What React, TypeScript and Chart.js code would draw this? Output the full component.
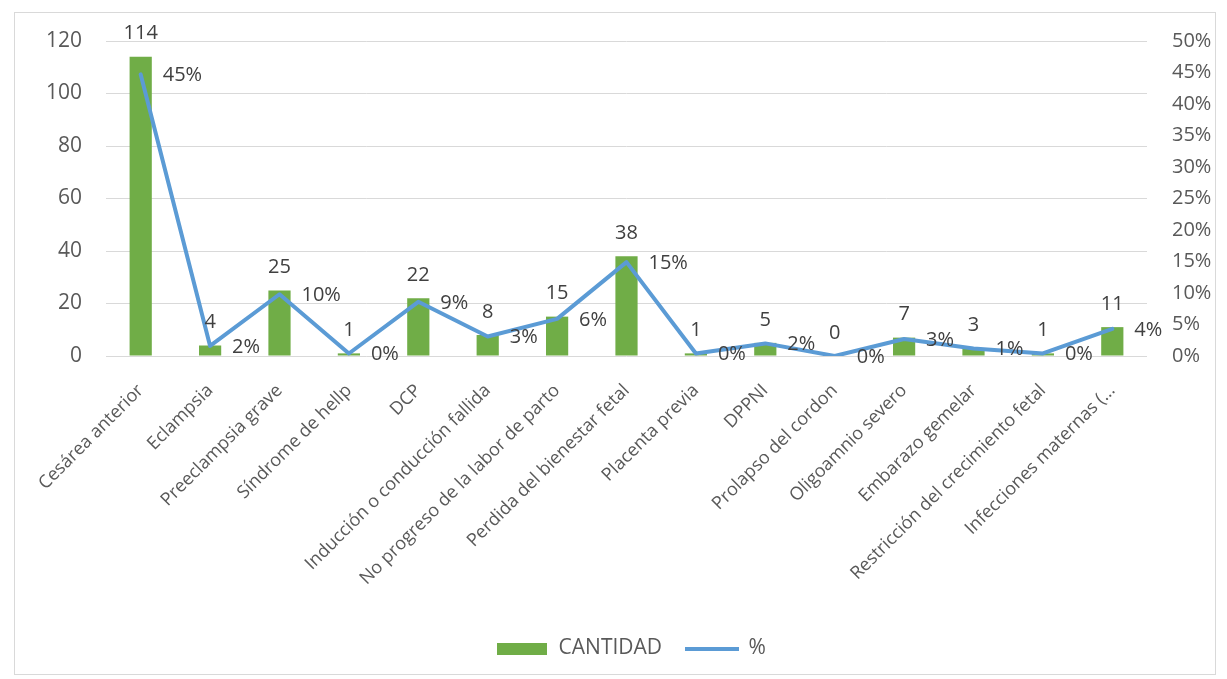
import React, { useEffect, useRef } from "react";
import { Chart, registerables } from "chart.js";

Chart.register(...registerables);

const categories = [
  "Cesárea anterior",
  "Eclampsia",
  "Preeclampsia grave",
  "Síndrome de hellp",
  "DCP",
  "Inducción o conducción fallida",
  "No progreso de la labor de parto",
  "Perdida del bienestar fetal",
  "Placenta previa",
  "DPPNI",
  "Prolapso del cordon",
  "Oligoamnio severo",
  "Embarazo gemelar",
  "Restricción del crecimiento fetal",
  "Infecciones maternas (...",
];

const cantidad = [114, 4, 25, 1, 22, 8, 15, 38, 1, 5, 0, 7, 3, 1, 11];
const porcentaje = [44.7, 1.6, 9.8, 0.4, 8.6, 3.1, 5.9, 14.9, 0.4, 2.0, 0.0, 2.7, 1.2, 0.4, 4.3];
const porcentajeLabels = ["45%", "2%", "10%", "0%", "9%", "3%", "6%", "15%", "0%", "2%", "0%", "3%", "1%", "0%", "4%"];

const leftMax = 120;
const leftStep = 20;
const rightMax = 50;
const rightStep = 5;

const GREEN = "#70ad47";
const BLUE = "#5b9bd5";
const FONT = '"Open Sans", "Liberation Sans", sans-serif';

function makeSwatch(w: number, h: number, color: string): HTMLCanvasElement {
  const c = document.createElement("canvas");
  c.width = w;
  c.height = h;
  const g = c.getContext("2d")!;
  g.fillStyle = color;
  g.fillRect(0, 0, w, h);
  return c;
}

const dataLabelsPlugin = {
  id: "dataLabels",
  afterDatasetsDraw(chart: any) {
    const ctx = chart.ctx;
    ctx.save();
    ctx.font = `20px ${FONT}`;
    ctx.fillStyle = "#404040";
    ctx.textBaseline = "middle";
    const barMeta = chart.getDatasetMeta(0);
    barMeta.data.forEach((el: any, i: number) => {
      ctx.textAlign = "center";
      ctx.fillText(String(cantidad[i]), el.x, el.y - 23);
    });
    const lineMeta = chart.getDatasetMeta(1);
    lineMeta.data.forEach((el: any, i: number) => {
      ctx.textAlign = "left";
      ctx.fillText(porcentajeLabels[i], el.x + 22, el.y + 1);
    });
    ctx.restore();
  },
};

export default function App() {
  const canvasRef = useRef<HTMLCanvasElement | null>(null);

  useEffect(() => {
    if (!canvasRef.current) return;
    const greenSwatch = makeSwatch(50, 12, GREEN);
    const blueSwatch = makeSwatch(54, 4, BLUE);

    const chart = new Chart(canvasRef.current, {
      type: "bar",
      data: {
        labels: categories,
        datasets: [
          {
            type: "bar",
            label: "CANTIDAD",
            data: cantidad,
            backgroundColor: GREEN,
            borderWidth: 0,
            yAxisID: "y",
            categoryPercentage: 1,
            barPercentage: 0.32,
            order: 1,
          },
          {
            type: "line",
            label: "%",
            data: porcentaje,
            borderColor: BLUE,
            backgroundColor: BLUE,
            borderWidth: 4,
            pointRadius: 0,
            tension: 0,
            borderCapStyle: "round",
            borderJoinStyle: "round",
            yAxisID: "y1",
            order: 0,
          } as any,
        ],
      },
      options: {
        animation: false,
        responsive: true,
        maintainAspectRatio: false,
        layout: { padding: { top: 28, bottom: 5, left: 32, right: 0 } },
        plugins: {
          tooltip: { enabled: false },
          legend: {
            position: "bottom",
            labels: {
              usePointStyle: true,
              pointStyleWidth: 52,
              boxHeight: 12,
              padding: 24,
              color: "#595959",
              font: { size: 21, family: FONT },
              generateLabels: () => [
                {
                  text: "CANTIDAD",
                  fillStyle: GREEN,
                  strokeStyle: GREEN,
                  lineWidth: 0,
                  pointStyle: greenSwatch,
                  hidden: false,
                  datasetIndex: 0,
                  fontColor: "#595959",
                } as any,
                {
                  text: "%",
                  fillStyle: BLUE,
                  strokeStyle: BLUE,
                  lineWidth: 0,
                  pointStyle: blueSwatch,
                  hidden: false,
                  datasetIndex: 1,
                  fontColor: "#595959",
                } as any,
              ],
            },
          },
        },
        scales: {
          x: {
            grid: { display: false },
            border: { display: false },
            ticks: {
              autoSkip: false,
              maxRotation: 45,
              minRotation: 45,
              padding: 16,
              color: "#595959",
              font: { size: 18, family: FONT },
            },
            afterFit: (scale: any) => {
              scale.height = 258;
            },
          },
          y: {
            position: "left",
            min: 0,
            max: leftMax,
            ticks: {
              stepSize: leftStep,
              padding: 24,
              color: "#595959",
              font: { size: 21, family: FONT },
            },
            grid: { color: "#d9d9d9", lineWidth: 1, drawTicks: false },
            border: { display: false },
            afterFit: (scale: any) => {
              scale.width = 59;
              scale.paddingTop = 0;
              scale.paddingBottom = 0;
            },
          },
          y1: {
            position: "right",
            min: 0,
            max: rightMax,
            ticks: {
              stepSize: rightStep,
              padding: 25,
              color: "#595959",
              font: { size: 20, family: FONT },
              callback: (v: any) => `${v}%`,
            },
            grid: { display: false, drawTicks: false },
            border: { display: false },
            afterFit: (scale: any) => {
              scale.width = 68;
              scale.paddingTop = 0;
              scale.paddingBottom = 0;
            },
          },
        },
      },
      plugins: [dataLabelsPlugin],
    });
    return () => chart.destroy();
  }, []);

  return (
    <div
      style={{
        position: "absolute",
        left: 14,
        top: 12,
        width: 1202,
        height: 663,
        border: "1px solid #d9d9d9",
        boxSizing: "border-box",
        background: "#fff",
      }}
    >
      <div style={{ position: "relative", width: 1200, height: 661 }}>
        <canvas ref={canvasRef} />
      </div>
    </div>
  );
}
